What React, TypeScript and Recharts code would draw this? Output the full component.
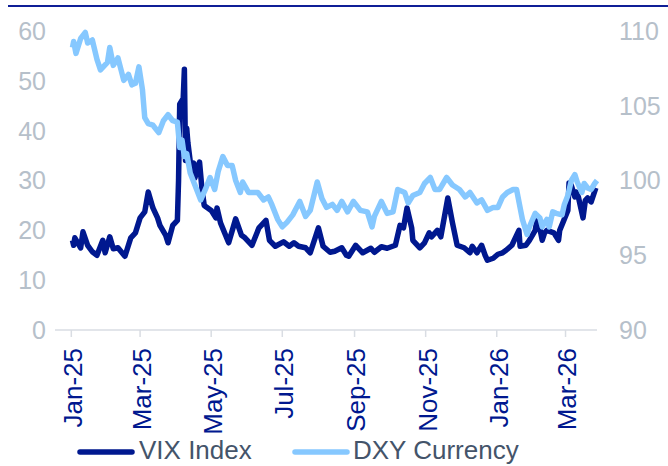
import React from 'react';
import { Line, LineChart, XAxis, YAxis } from 'recharts';

const NAVY = '#00188F';
const LIGHT = '#86C8FF';
const GREY = '#B6C0CA';
const FONT = '"Liberation Sans", Arial, sans-serif';

// VIX Index (left axis)
const vixDates = [
    '2025-01-02', '2025-01-03', '2025-01-04', '2025-01-09', '2025-01-11', '2025-01-15', '2025-01-19', '2025-01-23',
    '2025-01-28', '2025-01-30', '2025-02-03', '2025-02-06', '2025-02-10', '2025-02-16', '2025-02-21', '2025-02-25',
    '2025-03-01', '2025-03-05', '2025-03-08', '2025-03-12', '2025-03-16', '2025-03-18', '2025-03-23', '2025-03-25',
    '2025-03-29', '2025-04-02', '2025-04-03', '2025-04-04', '2025-04-07', '2025-04-08', '2025-04-09', '2025-04-10',
    '2025-04-11', '2025-04-14', '2025-04-16', '2025-04-17', '2025-04-21', '2025-04-23', '2025-04-25', '2025-05-01',
    '2025-05-05', '2025-05-06', '2025-05-09', '2025-05-16', '2025-05-22', '2025-05-27', '2025-05-30', '2025-06-05',
    '2025-06-11', '2025-06-17', '2025-06-20', '2025-06-25', '2025-07-02', '2025-07-07', '2025-07-11', '2025-07-15',
    '2025-07-21', '2025-07-25', '2025-08-01', '2025-08-05', '2025-08-11', '2025-08-15', '2025-08-21', '2025-08-25',
    '2025-08-27', '2025-09-02', '2025-09-08', '2025-09-15', '2025-09-18', '2025-09-24', '2025-09-29', '2025-10-06',
    '2025-10-10', '2025-10-13', '2025-10-16', '2025-10-20', '2025-10-21', '2025-10-27', '2025-10-31', '2025-11-04',
    '2025-11-06', '2025-11-11', '2025-11-14', '2025-11-20', '2025-11-24', '2025-11-28', '2025-12-04', '2025-12-09',
    '2025-12-11', '2025-12-15', '2025-12-19', '2025-12-22', '2025-12-24', '2025-12-29', '2026-01-02', '2026-01-06',
    '2026-01-09', '2026-01-14', '2026-01-20', '2026-01-21', '2026-01-26', '2026-01-29', '2026-02-03', '2026-02-05',
    '2026-02-09', '2026-02-11', '2026-02-13', '2026-02-19', '2026-02-23', '2026-02-24', '2026-02-27', '2026-03-03',
    '2026-03-04', '2026-03-06', '2026-03-09', '2026-03-10', '2026-03-12', '2026-03-16', '2026-03-18', '2026-03-20',
    '2026-03-23', '2026-03-27',
];
const vixValues = [
    18.0, 17.0, 18.5, 16.5, 19.7, 17.0, 15.7, 15.0,
    18.0, 15.5, 18.7, 16.3, 16.5, 14.8, 18.5, 19.5,
    22.5, 23.7, 27.7, 24.5, 22.5, 21.0, 19.0, 17.5,
    21.0, 22.0, 30.0, 45.3, 46.5, 52.3, 34.0, 40.5,
    37.6, 32.0, 33.5, 30.5, 33.7, 28.5, 25.0, 24.0,
    22.5, 24.5, 21.5, 17.5, 22.3, 19.0, 18.5, 17.0,
    20.5, 22.0, 18.0, 16.8, 17.7, 16.8, 17.5, 16.8,
    16.5, 15.5, 20.5, 16.8, 15.6, 15.8, 16.5, 15.0,
    14.8, 17.0, 15.5, 16.4, 15.6, 16.7, 16.4, 17.0,
    21.0, 20.5, 24.5, 20.5, 18.0, 16.5, 17.5, 19.5,
    18.7, 20.0, 18.7, 26.5, 21.5, 17.0, 16.5, 15.5,
    16.8, 15.5, 17.0, 15.0, 14.0, 14.4, 15.2, 15.5,
    16.0, 17.0, 20.0, 16.8, 17.0, 18.0, 20.0, 22.7,
    18.0, 19.5, 20.0, 19.5, 18.0, 20.0, 21.7, 24.0,
    29.5, 29.0, 26.7, 27.7, 26.7, 22.5, 26.0, 26.5,
    25.7, 28.5,
];

// DXY Currency (right axis)
const dxyDates = [
    '2025-01-02', '2025-01-03', '2025-01-05', '2025-01-09', '2025-01-13', '2025-01-15', '2025-01-19', '2025-01-23',
    '2025-01-26', '2025-02-01', '2025-02-03', '2025-02-06', '2025-02-10', '2025-02-15', '2025-02-19', '2025-02-22',
    '2025-02-25', '2025-02-28', '2025-03-03', '2025-03-05', '2025-03-08', '2025-03-12', '2025-03-17', '2025-03-21',
    '2025-03-25', '2025-03-29', '2025-04-02', '2025-04-04', '2025-04-06', '2025-04-08', '2025-04-10', '2025-04-13',
    '2025-04-17', '2025-04-22', '2025-04-26', '2025-04-30', '2025-05-04', '2025-05-07', '2025-05-11', '2025-05-15',
    '2025-05-19', '2025-05-22', '2025-05-26', '2025-05-28', '2025-06-02', '2025-06-06', '2025-06-10', '2025-06-15',
    '2025-06-19', '2025-06-22', '2025-06-27', '2025-07-01', '2025-07-05', '2025-07-10', '2025-07-16', '2025-07-21',
    '2025-07-25', '2025-07-31', '2025-08-04', '2025-08-08', '2025-08-13', '2025-08-17', '2025-08-21', '2025-08-26',
    '2025-08-31', '2025-09-06', '2025-09-12', '2025-09-16', '2025-09-18', '2025-09-24', '2025-09-29', '2025-10-04',
    '2025-10-08', '2025-10-14', '2025-10-17', '2025-10-21', '2025-10-27', '2025-10-31', '2025-11-05', '2025-11-09',
    '2025-11-13', '2025-11-19', '2025-11-24', '2025-11-30', '2025-12-05', '2025-12-09', '2025-12-15', '2025-12-19',
    '2025-12-24', '2025-12-29', '2026-01-02', '2026-01-06', '2026-01-10', '2026-01-15', '2026-01-18', '2026-01-21',
    '2026-01-23', '2026-01-27', '2026-01-29', '2026-02-03', '2026-02-07', '2026-02-09', '2026-02-13', '2026-02-15',
    '2026-02-18', '2026-02-21', '2026-02-26', '2026-02-28', '2026-03-03', '2026-03-06', '2026-03-09', '2026-03-11',
    '2026-03-15', '2026-03-17', '2026-03-20', '2026-03-23', '2026-03-26', '2026-03-28',
];
const dxyValues = [
    108.9, 109.3, 108.5, 109.5, 109.9, 109.2, 109.4, 108.1,
    107.4, 107.9, 108.9, 107.7, 108.2, 106.7, 107.1, 106.4,
    106.5, 107.6, 106.1, 104.2, 103.8, 103.7, 103.2, 104.0,
    104.4, 104.0, 103.9, 102.2, 102.7, 101.6, 101.8, 100.5,
    99.7, 98.7, 99.4, 100.2, 99.4, 100.6, 101.6, 101.0,
    101.0, 100.0, 99.2, 99.9, 99.2, 99.2, 99.2, 98.7,
    98.9, 98.4, 97.4, 96.9, 97.2, 97.7, 98.6, 97.6,
    98.0, 99.9, 98.8, 98.2, 98.4, 98.0, 98.6, 97.9,
    98.6, 98.0, 97.9, 96.9, 97.6, 98.6, 97.8, 97.9,
    99.4, 99.2, 98.5, 99.0, 99.2, 99.8, 100.2, 99.4,
    99.4, 100.2, 99.7, 99.4, 98.9, 99.2, 98.5, 98.7,
    98.0, 98.2, 98.2, 98.9, 99.2, 99.4, 99.4, 98.2,
    97.4, 96.4, 96.9, 97.8, 97.5, 96.9, 97.4, 96.9,
    97.9, 97.8, 97.7, 98.4, 99.0, 100.0, 100.4, 99.9,
    99.2, 99.8, 99.5, 99.4, 99.8, 100.0,
];

const xTicks = ['2025-01-01', '2025-03-01', '2025-05-01', '2025-07-01', '2025-09-01', '2025-11-01', '2026-01-01', '2026-03-01'];
const MONTHS = ['Jan', 'Feb', 'Mar', 'Apr', 'May', 'Jun', 'Jul', 'Aug', 'Sep', 'Oct', 'Nov', 'Dec'];
const leftTicks = [0, 10, 20, 30, 40, 50, 60];
const rightTicks = [90, 95, 100, 105, 110];

const vixData = vixDates.map((d, i) => ({ t: Date.parse(d), v: vixValues[i] }));
const dxyData = dxyDates.map((d, i) => ({ t: Date.parse(d), v: dxyValues[i] }));

const fmtMonth = (t: number) => {
    const d = new Date(t);
    return `${MONTHS[d.getUTCMonth()]}-${String(d.getUTCFullYear()).slice(2)}`;
};

const DateTick = (props: any) => {
    const { x, y, payload } = props;
    return (
        <text
            x={x}
            y={y}
            transform={`rotate(-90 ${x} ${y})`}
            textAnchor="end"
            dy="0.42em"
            fill={NAVY}
            fontSize={26}
            fontFamily={FONT}
        >
            {fmtMonth(payload.value)}
        </text>
    );
};

export default function App() {
    return (
        <div style={{ position: 'absolute', left: 0, top: 0, width: 668, height: 466, background: '#fff' }}>
            <div style={{ position: 'absolute', left: 8, top: 5, width: 660, height: 2, background: '#0F1E96' }} />
            <LineChart width={668} height={466} margin={{ top: 31, right: 0, bottom: 0, left: 0 }}>
                <XAxis
                    type="number"
                    dataKey="t"
                    domain={[Date.parse('2024-12-18'), Date.parse('2026-03-28')]}
                    ticks={xTicks.map((d) => Date.parse(d))}
                    tick={<DateTick />}
                    height={136}
                    tickSize={7}
                    tickMargin={11}
                    interval={0}
                    stroke="#D9DDE3"
                    axisLine={{ stroke: '#D9DDE3', strokeWidth: 1.5 }}
                    tickLine={{ stroke: '#D9DDE3', strokeWidth: 1.5 }}
                />
                <YAxis
                    yAxisId="left"
                    orientation="left"
                    width={55}
                    domain={[0, 60]}
                    ticks={leftTicks}
                    axisLine={false}
                    tickLine={false}
                    tickMargin={3}
                    tick={{ fill: GREY, fontSize: 25, fontFamily: FONT }}
                />
                <YAxis
                    yAxisId="right"
                    orientation="right"
                    width={71}
                    domain={[90, 110]}
                    ticks={rightTicks}
                    axisLine={false}
                    tickLine={false}
                    tickMargin={16}
                    tick={{ fill: GREY, fontSize: 25, fontFamily: FONT }}
                />
                <Line
                    yAxisId="left"
                    data={vixData}
                    dataKey="v"
                    name="VIX Index"
                    stroke={NAVY}
                    strokeWidth={5.5}
                    strokeLinejoin="round"
                    dot={false}
                    activeDot={false}
                    isAnimationActive={false}
                />
                <Line
                    yAxisId="right"
                    data={dxyData}
                    dataKey="v"
                    name="DXY Currency"
                    stroke={LIGHT}
                    strokeWidth={5.5}
                    strokeLinejoin="round"
                    dot={false}
                    activeDot={false}
                    isAnimationActive={false}
                />
            </LineChart>
            {/* legend */}
            <svg width={668} height={466} style={{ position: 'absolute', left: 0, top: 0, pointerEvents: 'none' }}>
                <line x1={80} y1={452} x2={132} y2={452} stroke={NAVY} strokeWidth={5.5} strokeLinecap="round" />
                <text x={139} y={459} fontSize={26} fontFamily={FONT} fill="#44546A">
                    VIX Index
                </text>
                <line x1={295} y1={452} x2={347} y2={452} stroke={LIGHT} strokeWidth={5.5} strokeLinecap="round" />
                <text x={353} y={459} fontSize={26} fontFamily={FONT} fill="#44546A">
                    DXY Currency
                </text>
            </svg>
        </div>
    );
}
